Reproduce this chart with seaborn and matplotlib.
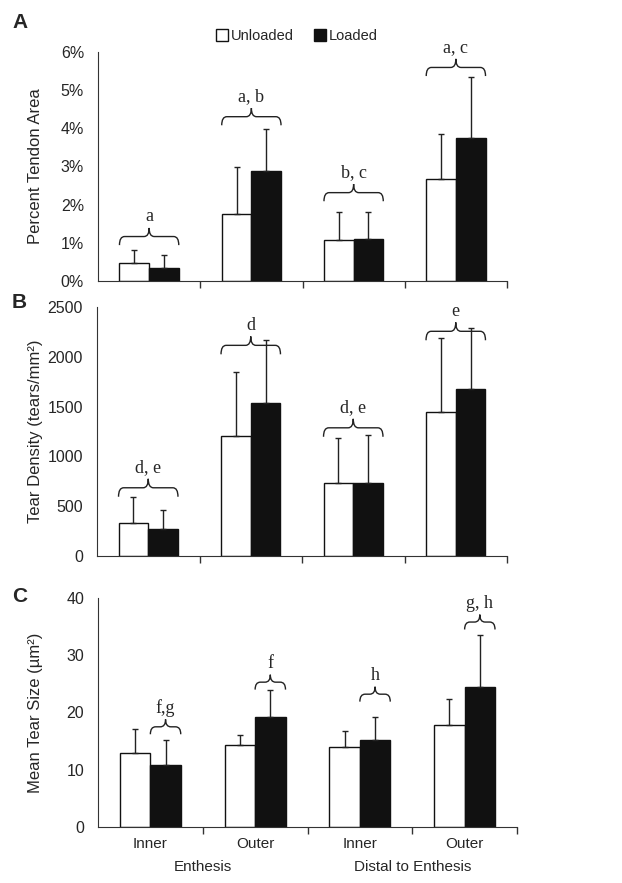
import numpy as np
import pandas as pd
import matplotlib
matplotlib.use("Agg")
import matplotlib.pyplot as plt
import seaborn as sns
from matplotlib.path import Path
from matplotlib.patches import PathPatch, Patch
from matplotlib import transforms

# data
sites = ["Inner", "Outer", "Inner ", "Outer "]
loads = ["Unloaded", "Loaded"]

area_unloaded = [0.46, 1.76, 1.07, 2.66]
area_loaded = [0.33, 2.88, 1.09, 3.75]
area_unloaded_sd = [0.35, 1.23, 0.73, 1.20]
area_loaded_sd = [0.35, 1.09, 0.73, 1.60]

dens_unloaded = [334, 1203, 729, 1447]
dens_loaded = [274, 1541, 729, 1674]
dens_unloaded_sd = [258, 642, 457, 742]
dens_loaded_sd = [184, 625, 481, 615]

size_unloaded = [12.9, 14.3, 14.0, 17.75]
size_loaded = [10.9, 19.15, 15.2, 24.4]
size_unloaded_sd = [4.3, 1.8, 2.8, 4.65]
size_loaded_sd = [4.3, 4.75, 3.95, 9.2]

# significance brackets: bottom of brace, label
area_brace_y = [0.94, 4.08, 2.09, 5.37]
area_labels = ["a", "a, b", "b, c", "a, c"]
dens_brace_y = [595, 2025, 1197, 2166]
dens_labels = ["d, e", "d", "d, e", "e"]
size_brace_y = [16.2, 24.0, 21.9, 34.5]
size_labels = ["f,g", "f", "h", "g, h"]

sns.set_style("ticks")
plt.rcParams["font.family"] = ["Liberation Sans", "DejaVu Sans"]
plt.rcParams["axes.edgecolor"] = "#333333"

fig = plt.figure(figsize=(6.22, 8.83), dpi=100)
W, H = 622, 883


def add_axes(left, right, top, bottom):
    return fig.add_axes([left / W, 1 - bottom / H, (right - left) / W, (bottom - top) / H])


axA = add_axes(98, 507, 52, 281)
axB = add_axes(97, 507, 307, 556)
axC = add_axes(98, 517, 598, 827)


def brace(ax, x0, x1, y, h, d=0.05):
    xm = (x0 + x1) / 2
    m = y + h / 2
    verts = [(x0, y), (x0, m), (x0 + d, m), (xm - d, m), (xm, m), (xm, y + h),
             (xm, m), (xm + d, m), (x1 - d, m), (x1, m), (x1, y)]
    codes = [Path.MOVETO, Path.CURVE3, Path.CURVE3, Path.LINETO, Path.CURVE3, Path.CURVE3,
             Path.CURVE3, Path.CURVE3, Path.LINETO, Path.CURVE3, Path.CURVE3]
    ax.add_patch(PathPatch(Path(verts, codes), fill=False, lw=1, color="#222222", clip_on=False))
    return xm, y + h


def panel(ax, unl, lod, unl_sd, lod_sd, ymax, step, ylabel, brace_y, brace_h, labels, span, fmt=None):
    df = pd.DataFrame({
        "site": sites * 2,
        "load": [loads[0]] * 4 + [loads[1]] * 4,
        "value": unl + lod,
    })
    sns.barplot(data=df, x="site", y="value", hue="load", order=sites, hue_order=loads,
                palette={"Unloaded": "white", "Loaded": "#111111"}, edgecolor="#111111",
                linewidth=1, width=0.58, errorbar=None, legend=False, ax=ax)
    for cont, sd in zip(ax.containers[:2], [unl_sd, lod_sd]):
        xs = [p.get_x() + p.get_width() / 2 for p in cont.patches]
        hs = [p.get_height() for p in cont.patches]
        ax.errorbar(xs, hs, yerr=[np.zeros(len(sd)), sd], fmt="none", ecolor="#222222",
                    elinewidth=1, capsize=2.5, capthick=1)
    un, lo = ax.containers[0].patches, ax.containers[1].patches
    for i in range(4):
        if span == "both":
            x0, x1 = un[i].get_x(), lo[i].get_x() + lo[i].get_width()
        else:
            x0, x1 = lo[i].get_x(), lo[i].get_x() + lo[i].get_width()
        xm, ytip = brace(ax, x0, x1, brace_y[i], brace_h)
        ax.annotate(labels[i], (xm, ytip), xytext=(0, 2), textcoords="offset points",
                    ha="center", va="bottom", fontsize=13, family="Liberation Serif",
                    annotation_clip=False)
    ax.set_xlim(-0.5, 3.5)
    ax.set_ylim(0, ymax)
    ax.set_yticks(np.arange(0, ymax + step / 2, step))
    if fmt:
        ax.set_yticklabels([fmt.format(v) for v in np.arange(0, ymax + step / 2, step)])
    ax.set_xlabel("")
    ax.set_ylabel(ylabel, fontsize=12)
    ax.yaxis.set_label_coords(43 / W, 0.5, transform=transforms.blended_transform_factory(fig.transFigure, ax.transAxes))
    ax.tick_params(axis="y", length=0, pad=10, labelsize=11.5)
    ax.tick_params(axis="x", which="major", length=0, labelsize=11, pad=7)
    ax.set_xticks([0.5, 1.5, 2.5, 3.5], minor=True)
    ax.tick_params(axis="x", which="minor", length=5, width=1, color="#333333")
    sns.despine(ax=ax)


panel(axA, area_unloaded, area_loaded, area_unloaded_sd, area_loaded_sd, 6, 1,
      "Percent Tendon Area", area_brace_y, 0.45, area_labels, "both", fmt="{:.0f}%")
panel(axB, dens_unloaded, dens_loaded, dens_unloaded_sd, dens_loaded_sd, 2500, 500,
      "Tear Density (tears/mm²)", dens_brace_y, 180, dens_labels, "both")
panel(axC, size_unloaded, size_loaded, size_unloaded_sd, size_loaded_sd, 40, 10,
      "Mean Tear Size (µm²)", size_brace_y, 2.6, size_labels, "loaded")

axA.set_xticklabels([])
axB.set_xticklabels([])
axC.set_xticklabels([s.strip() for s in sites])

tr = transforms.blended_transform_factory(axC.transData, axC.transAxes)
axC.text(0.5, -0.175, "Enthesis", transform=tr, ha="center", va="center", fontsize=11)
axC.text(2.5, -0.175, "Distal to Enthesis", transform=tr, ha="center", va="center", fontsize=11)

for letter, y in zip(["A", "B", "C"], [22, 302, 597]):
    fig.text(12 / W, 1 - y / H, letter, fontsize=15, fontweight="bold", va="center", ha="left")

handles = [Patch(facecolor="white", edgecolor="#111111", lw=1),
           Patch(facecolor="#111111", edgecolor="#111111", lw=1)]
fig.legend(handles, loads, loc="center", bbox_to_anchor=(297 / W, 1 - 36 / H), ncol=2,
           frameon=False, handlelength=0.8, handleheight=0.8, handletextpad=0.2,
           columnspacing=1.4, fontsize=10.5)

fig.savefig("out.png", dpi=100)
